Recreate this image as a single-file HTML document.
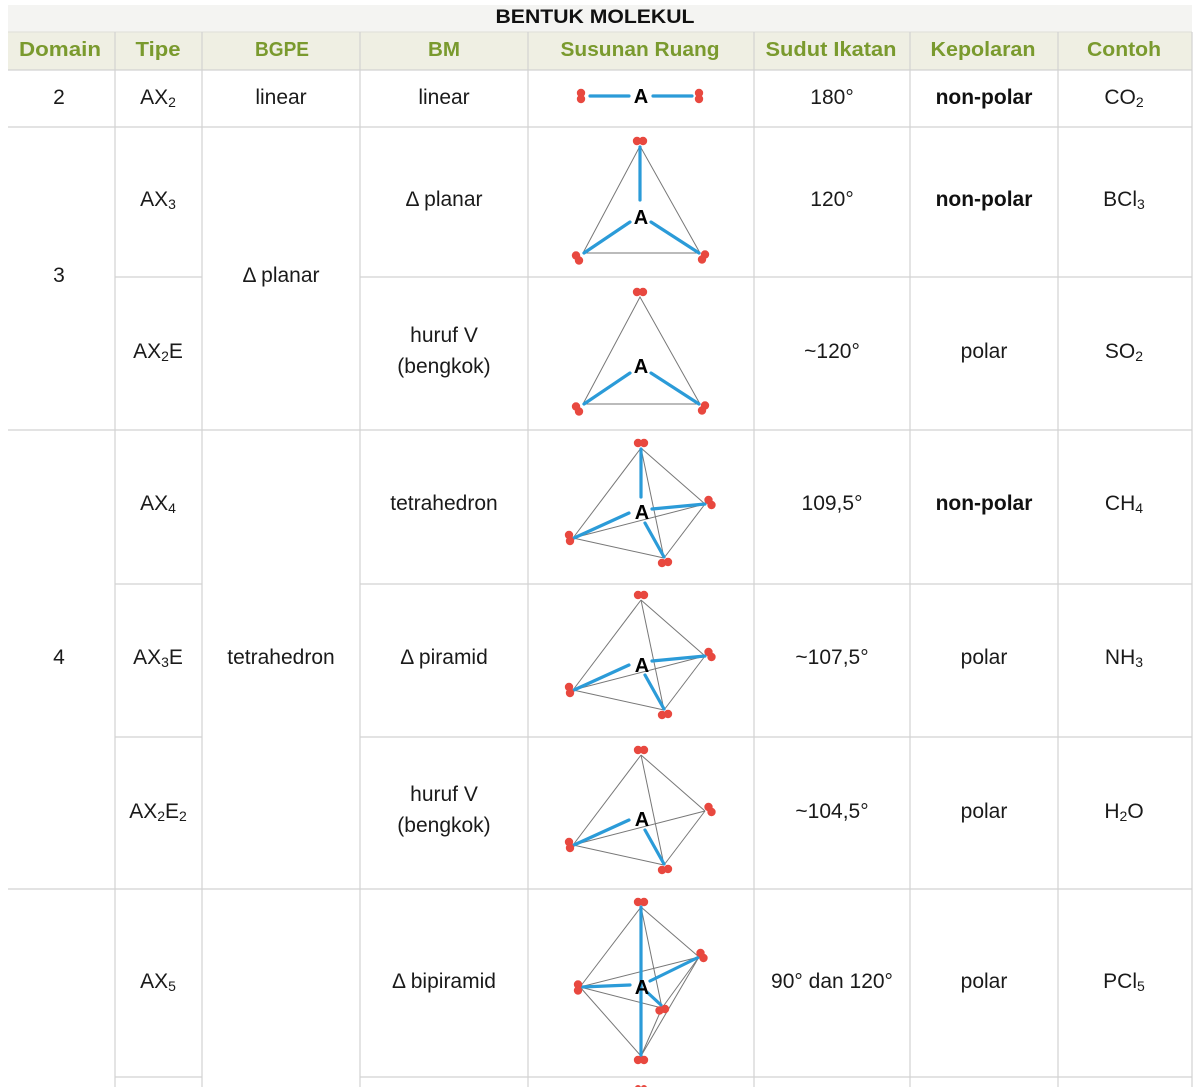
<!DOCTYPE html>
<html>
<head>
<meta charset="utf-8">
<style>
html,body{margin:0;padding:0;background:#fff;}
svg{display:block;}
text{font-family:"Liberation Sans","DejaVu Sans",sans-serif;}
.h{font-size:20px;font-weight:bold;fill:#7a9a2e;text-anchor:middle;}
.t{font-size:21px;fill:#1a1a1a;text-anchor:middle;}
.b{font-size:21px;font-weight:bold;fill:#111;text-anchor:middle;}
.a{font-size:20px;font-weight:bold;fill:#000;text-anchor:middle;}
.g{stroke:#777;stroke-width:1;fill:none;}
.bl{stroke:#2b9bd8;stroke-width:3.2;stroke-linecap:round;fill:none;}
.at{fill:#e8483f;}
.ln{stroke:#d2d2d2;stroke-width:1.2;}
</style>
</head>
<body>
<svg width="1200" height="1087" viewBox="0 0 1200 1087" xmlns="http://www.w3.org/2000/svg">
<rect x="8" y="5" width="1184" height="27" fill="#f4f4f2"/>
<rect x="8" y="32" width="1184" height="38" fill="#efefe3"/>
<text x="595" y="23" style="font-size:19px;font-weight:bold;fill:#111;text-anchor:middle" textLength="199" lengthAdjust="spacingAndGlyphs">BENTUK MOLEKUL</text>

<text class="h" x="60" y="56" textLength="82" lengthAdjust="spacingAndGlyphs">Domain</text>
<text class="h" x="158" y="56" textLength="45" lengthAdjust="spacingAndGlyphs">Tipe</text>
<text class="h" x="282" y="56" textLength="54" lengthAdjust="spacingAndGlyphs">BGPE</text>
<text class="h" x="444" y="56" textLength="32" lengthAdjust="spacingAndGlyphs">BM</text>
<text class="h" x="640" y="56" textLength="159" lengthAdjust="spacingAndGlyphs">Susunan Ruang</text>
<text class="h" x="831" y="56" textLength="131" lengthAdjust="spacingAndGlyphs">Sudut Ikatan</text>
<text class="h" x="983" y="56" textLength="105" lengthAdjust="spacingAndGlyphs">Kepolaran</text>
<text class="h" x="1124" y="56" textLength="74" lengthAdjust="spacingAndGlyphs">Contoh</text>

<g class="ln">
<line x1="8" y1="32" x2="1192" y2="32" stroke="#e2e2dc"/>
<line x1="8" y1="70" x2="1192" y2="70"/>
<line x1="8" y1="127" x2="1192" y2="127"/>
<line x1="115" y1="277" x2="202" y2="277"/>
<line x1="360" y1="277" x2="1192" y2="277"/>
<line x1="8" y1="430" x2="1192" y2="430"/>
<line x1="115" y1="584" x2="202" y2="584"/>
<line x1="360" y1="584" x2="1192" y2="584"/>
<line x1="115" y1="737" x2="202" y2="737"/>
<line x1="360" y1="737" x2="1192" y2="737"/>
<line x1="8" y1="889" x2="1192" y2="889"/>
<line x1="115" y1="1077" x2="202" y2="1077"/>
<line x1="360" y1="1077" x2="1192" y2="1077"/>
<line x1="115" y1="32" x2="115" y2="1087"/>
<line x1="202" y1="32" x2="202" y2="1087"/>
<line x1="360" y1="32" x2="360" y2="1087"/>
<line x1="528" y1="32" x2="528" y2="1087"/>
<line x1="754" y1="32" x2="754" y2="1087"/>
<line x1="910" y1="32" x2="910" y2="1087"/>
<line x1="1058" y1="32" x2="1058" y2="1087"/>
<line x1="1192" y1="32" x2="1192" y2="1087"/>
</g>

<text class="t" x="59" y="104">2</text>
<text class="t" x="59" y="282">3</text>
<text class="t" x="59" y="664">4</text>

<text class="t" x="158" y="104">AX<tspan font-size="14" dy="3">2</tspan></text>
<text class="t" x="158" y="206">AX<tspan font-size="14" dy="3">3</tspan></text>
<text class="t" x="158" y="358">AX<tspan font-size="14" dy="3">2</tspan><tspan dy="-3">E</tspan></text>
<text class="t" x="158" y="510">AX<tspan font-size="14" dy="3">4</tspan></text>
<text class="t" x="158" y="664">AX<tspan font-size="14" dy="3">3</tspan><tspan dy="-3">E</tspan></text>
<text class="t" x="158" y="818">AX<tspan font-size="14" dy="3">2</tspan><tspan dy="-3">E</tspan><tspan font-size="14" dy="3">2</tspan></text>
<text class="t" x="158" y="988">AX<tspan font-size="14" dy="3">5</tspan></text>

<text class="t" x="281" y="104">linear</text>
<text class="t" x="281" y="282">Δ planar</text>
<text class="t" x="281" y="664">tetrahedron</text>

<text class="t" x="444" y="104">linear</text>
<text class="t" x="444" y="206">Δ planar</text>
<text class="t" x="444" y="342">huruf V</text>
<text class="t" x="444" y="373">(bengkok)</text>
<text class="t" x="444" y="510">tetrahedron</text>
<text class="t" x="444" y="664">Δ piramid</text>
<text class="t" x="444" y="801">huruf V</text>
<text class="t" x="444" y="832">(bengkok)</text>
<text class="t" x="444" y="988">Δ bipiramid</text>

<text class="t" x="832" y="104">180°</text>
<text class="t" x="832" y="206">120°</text>
<text class="t" x="832" y="358">~120°</text>
<text class="t" x="832" y="510">109,5°</text>
<text class="t" x="832" y="664">~107,5°</text>
<text class="t" x="832" y="818">~104,5°</text>
<text class="t" x="832" y="988">90° dan 120°</text>

<text class="b" x="984" y="104">non-polar</text>
<text class="b" x="984" y="206">non-polar</text>
<text class="t" x="984" y="358">polar</text>
<text class="b" x="984" y="510">non-polar</text>
<text class="t" x="984" y="664">polar</text>
<text class="t" x="984" y="818">polar</text>
<text class="t" x="984" y="988">polar</text>

<text class="t" x="1124" y="104">CO<tspan font-size="14" dy="3">2</tspan></text>
<text class="t" x="1124" y="206">BCl<tspan font-size="14" dy="3">3</tspan></text>
<text class="t" x="1124" y="358">SO<tspan font-size="14" dy="3">2</tspan></text>
<text class="t" x="1124" y="510">CH<tspan font-size="14" dy="3">4</tspan></text>
<text class="t" x="1124" y="664">NH<tspan font-size="14" dy="3">3</tspan></text>
<text class="t" x="1124" y="818">H<tspan font-size="14" dy="3">2</tspan><tspan dy="-3">O</tspan></text>
<text class="t" x="1124" y="988">PCl<tspan font-size="14" dy="3">5</tspan></text>

<!-- linear -->
<line class="bl" x1="590" y1="96" x2="629" y2="96"/>
<line class="bl" x1="653" y1="96" x2="692" y2="96"/>
<text class="a" x="641" y="103">A</text>
<circle class="at" cx="581" cy="93" r="4.2"/><circle class="at" cx="581" cy="99" r="4.2"/>
<circle class="at" cx="699" cy="93" r="4.2"/><circle class="at" cx="699" cy="99" r="4.2"/>

<!-- trigonal planar -->
<polygon class="g" points="640,146 583,253 700,253"/>
<line class="bl" x1="640" y1="147" x2="640" y2="200"/>
<line class="bl" x1="630" y1="222" x2="584" y2="253"/>
<line class="bl" x1="651" y1="222" x2="699" y2="253"/>
<text class="a" x="641" y="224">A</text>
<circle class="at" cx="637" cy="141" r="4.2"/><circle class="at" cx="643" cy="141" r="4.2"/>
<circle class="at" cx="576" cy="255.5" r="4.2"/><circle class="at" cx="579" cy="260.5" r="4.2"/>
<circle class="at" cx="705" cy="254.5" r="4.2"/><circle class="at" cx="702" cy="259.5" r="4.2"/>

<!-- bent (AX2E) -->
<polygon class="g" points="640,297 583,404 700,404"/>
<line class="bl" x1="630" y1="373" x2="584" y2="404"/>
<line class="bl" x1="651" y1="373" x2="699" y2="404"/>
<text class="a" x="641" y="373">A</text>
<circle class="at" cx="637" cy="292" r="4.2"/><circle class="at" cx="643" cy="292" r="4.2"/>
<circle class="at" cx="576" cy="406.5" r="4.2"/><circle class="at" cx="579" cy="411.5" r="4.2"/>
<circle class="at" cx="705" cy="405.5" r="4.2"/><circle class="at" cx="702" cy="410.5" r="4.2"/>

<!-- tetrahedron AX4 -->
<g class="g">
<line x1="641" y1="448" x2="573" y2="538"/>
<line x1="641" y1="448" x2="705" y2="504"/>
<line x1="641" y1="448" x2="664" y2="558"/>
<line x1="573" y1="538" x2="705" y2="504"/>
<line x1="573" y1="538" x2="664" y2="558"/>
<line x1="705" y1="504" x2="664" y2="558"/>
</g>
<line class="bl" x1="641" y1="449" x2="641" y2="497"/>
<line class="bl" x1="652" y1="509" x2="705" y2="504"/>
<line class="bl" x1="629" y1="513" x2="574" y2="538"/>
<line class="bl" x1="645" y1="523" x2="664" y2="557"/>
<text class="a" x="642" y="519">A</text>
<circle class="at" cx="638" cy="443" r="4.2"/><circle class="at" cx="644" cy="443" r="4.2"/>
<circle class="at" cx="708.5" cy="500" r="4.2"/><circle class="at" cx="711.5" cy="505" r="4.2"/>
<circle class="at" cx="569" cy="535" r="4.2"/><circle class="at" cx="570" cy="541" r="4.2"/>
<circle class="at" cx="662" cy="563" r="4.2"/><circle class="at" cx="668" cy="562" r="4.2"/>

<!-- AX3E -->
<g class="g">
<line x1="641" y1="600" x2="573" y2="690"/>
<line x1="641" y1="600" x2="705" y2="656"/>
<line x1="641" y1="600" x2="664" y2="710"/>
<line x1="573" y1="690" x2="705" y2="656"/>
<line x1="573" y1="690" x2="664" y2="710"/>
<line x1="705" y1="656" x2="664" y2="710"/>
</g>
<line class="bl" x1="652" y1="661" x2="705" y2="656"/>
<line class="bl" x1="629" y1="665" x2="574" y2="690"/>
<line class="bl" x1="645" y1="675" x2="664" y2="709"/>
<text class="a" x="642" y="672">A</text>
<circle class="at" cx="638" cy="595" r="4.2"/><circle class="at" cx="644" cy="595" r="4.2"/>
<circle class="at" cx="708.5" cy="652" r="4.2"/><circle class="at" cx="711.5" cy="657" r="4.2"/>
<circle class="at" cx="569" cy="687" r="4.2"/><circle class="at" cx="570" cy="693" r="4.2"/>
<circle class="at" cx="662" cy="715" r="4.2"/><circle class="at" cx="668" cy="714" r="4.2"/>

<!-- AX2E2 -->
<g class="g">
<line x1="641" y1="755" x2="573" y2="845"/>
<line x1="641" y1="755" x2="705" y2="811"/>
<line x1="641" y1="755" x2="664" y2="865"/>
<line x1="573" y1="845" x2="705" y2="811"/>
<line x1="573" y1="845" x2="664" y2="865"/>
<line x1="705" y1="811" x2="664" y2="865"/>
</g>
<line class="bl" x1="629" y1="820" x2="574" y2="845"/>
<line class="bl" x1="645" y1="830" x2="664" y2="864"/>
<text class="a" x="642" y="826">A</text>
<circle class="at" cx="638" cy="750" r="4.2"/><circle class="at" cx="644" cy="750" r="4.2"/>
<circle class="at" cx="708.5" cy="807" r="4.2"/><circle class="at" cx="711.5" cy="812" r="4.2"/>
<circle class="at" cx="569" cy="842" r="4.2"/><circle class="at" cx="570" cy="848" r="4.2"/>
<circle class="at" cx="662" cy="870" r="4.2"/><circle class="at" cx="668" cy="869" r="4.2"/>

<!-- trigonal bipyramid -->
<g class="g">
<line x1="641" y1="907" x2="580" y2="987"/>
<line x1="641" y1="907" x2="699" y2="957"/>
<line x1="641" y1="907" x2="662" y2="1008"/>
<line x1="641" y1="1056" x2="580" y2="987"/>
<line x1="641" y1="1056" x2="699" y2="957"/>
<line x1="641" y1="1056" x2="662" y2="1008"/>
<line x1="580" y1="987" x2="699" y2="957"/>
<line x1="580" y1="987" x2="662" y2="1008"/>
<line x1="699" y1="957" x2="662" y2="1008"/>
</g>
<line class="bl" x1="641" y1="907" x2="641" y2="1056"/>
<line class="bl" x1="582" y1="987" x2="630" y2="985"/>
<line class="bl" x1="650" y1="981" x2="699" y2="957"/>
<line class="bl" x1="648" y1="993" x2="661" y2="1005"/>
<text class="a" x="642" y="994">A</text>
<circle class="at" cx="638" cy="902" r="4.2"/><circle class="at" cx="644" cy="902" r="4.2"/>
<circle class="at" cx="638" cy="1060" r="4.2"/><circle class="at" cx="644" cy="1060" r="4.2"/>
<circle class="at" cx="578" cy="984.5" r="4.2"/><circle class="at" cx="578" cy="990.5" r="4.2"/>
<circle class="at" cx="700.5" cy="953" r="4.2"/><circle class="at" cx="703.5" cy="958" r="4.2"/>
<circle class="at" cx="659.5" cy="1010.5" r="4.2"/><circle class="at" cx="665" cy="1009" r="4.2"/>

<circle class="at" cx="638" cy="1088" r="3"/><circle class="at" cx="644" cy="1088" r="3"/>
</svg>
</body>
</html>
